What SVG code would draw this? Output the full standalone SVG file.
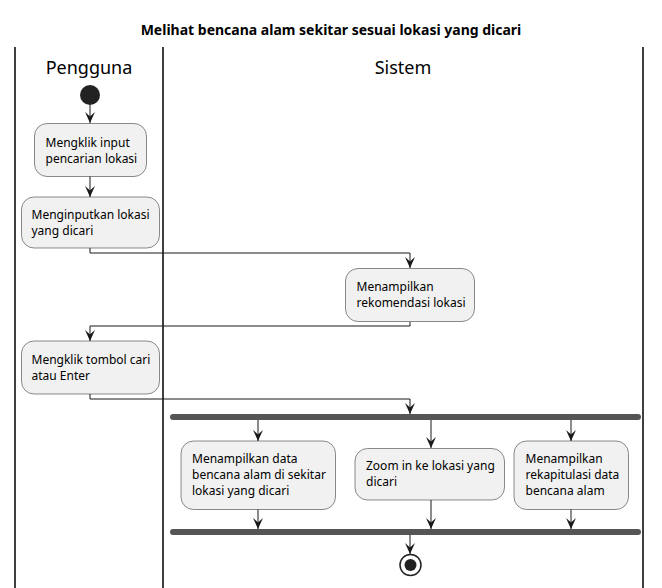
<svg xmlns="http://www.w3.org/2000/svg" width="662" height="588" viewBox="0 0 662 588">
<defs>
<style>
.t{font-family:"Noto Sans","DejaVu Sans",sans-serif;font-size:12px;fill:#000}
.h{font-family:"Noto Sans","DejaVu Sans",sans-serif;font-size:18px;fill:#000;text-anchor:middle}
.ti{font-family:"Noto Sans","DejaVu Sans",sans-serif;font-size:14px;font-weight:bold;fill:#000;text-anchor:middle}
.box{fill:#F1F1F1;stroke:#181818;stroke-width:0.5}
.lane{stroke:#000;stroke-width:1.5}
.c{fill:none;stroke:#181818;stroke-width:1}
.bar{fill:#555555}
</style>
<marker id="ah" viewBox="0 0 10 10" refX="10" refY="5" markerWidth="11" markerHeight="11" markerUnits="userSpaceOnUse" orient="auto">
<polygon points="0,0.5 10,5 0,9.5 4,5" fill="#181818"/>
</marker>
</defs>
<rect width="662" height="588" fill="#fff"/>
<text class="ti" x="331" y="35">Melihat bencana alam sekitar sesuai lokasi yang dicari</text>
<g id="lanes">
<line class="lane" x1="15" y1="47" x2="15" y2="588"/>
<line class="lane" x1="163" y1="47" x2="163" y2="588"/>
<line class="lane" x1="643" y1="47" x2="643" y2="588"/>
<text class="h" x="89" y="74">Pengguna</text>
<text class="h" x="403" y="74">Sistem</text>
</g>
<g id="connectors">
<path class="c" d="M90,105 V123" marker-end="url(#ah)"/>
<path class="c" d="M90,176 V197" marker-end="url(#ah)"/>
<path class="c" d="M90,248 V253 H410 V268" marker-end="url(#ah)"/>
<path class="c" d="M410,322 V326 H90 V341" marker-end="url(#ah)"/>
<path class="c" d="M90,394 V399 H410 V414" marker-end="url(#ah)"/>
<path class="c" d="M258,420 V441" marker-end="url(#ah)"/>
<path class="c" d="M431,420 V448" marker-end="url(#ah)"/>
<path class="c" d="M571,420 V441" marker-end="url(#ah)"/>
<path class="c" d="M258,509 V529" marker-end="url(#ah)"/>
<path class="c" d="M431,500 V529" marker-end="url(#ah)"/>
<path class="c" d="M571,509 V529" marker-end="url(#ah)"/>
<path class="c" d="M410,535 V554" marker-end="url(#ah)"/>
</g>
<g id="start"><circle cx="90" cy="95" r="10" fill="#222"/></g>
<g id="n1">
<rect class="box" x="34.5" y="123.5" width="112" height="53" rx="12.5"/>
<text class="t" x="45.5" y="146.5">Mengklik input</text>
<text class="t" x="45.5" y="162.5">pencarian lokasi</text>
</g>
<g id="n2">
<rect class="box" x="21.5" y="197" width="138" height="51" rx="12.5"/>
<text class="t" x="31.5" y="218.5">Menginputkan lokasi</text>
<text class="t" x="31.5" y="234.5">yang dicari</text>
</g>
<g id="n3">
<rect class="box" x="345.5" y="268.5" width="129" height="53" rx="12.5"/>
<text class="t" x="356.5" y="291">Menampilkan</text>
<text class="t" x="356.5" y="307">rekomendasi lokasi</text>
</g>
<g id="n4">
<rect class="box" x="21.5" y="341" width="138" height="53" rx="12.5"/>
<text class="t" x="31.5" y="363.5">Mengklik tombol cari</text>
<text class="t" x="31.5" y="379.5">atau Enter</text>
</g>
<g id="fork"><rect class="bar" x="170" y="414" width="471" height="6" rx="3"/></g>
<g id="n5">
<rect class="box" x="181" y="441" width="154.5" height="68.5" rx="12.5"/>
<text class="t" x="192" y="463">Menampilkan data</text>
<text class="t" x="192" y="479">bencana alam di sekitar</text>
<text class="t" x="192" y="495">lokasi yang dicari</text>
</g>
<g id="n6">
<rect class="box" x="355" y="448.5" width="149.5" height="51.5" rx="12.5"/>
<text class="t" x="366" y="470">Zoom in ke lokasi yang</text>
<text class="t" x="366" y="486">dicari</text>
</g>
<g id="n7">
<rect class="box" x="514" y="441" width="114.5" height="68.5" rx="12.5"/>
<text class="t" x="525.5" y="463">Menampilkan</text>
<text class="t" x="525.5" y="479">rekapitulasi data</text>
<text class="t" x="525.5" y="495">bencana alam</text>
</g>
<g id="join"><rect class="bar" x="170" y="529" width="471" height="6" rx="3"/></g>
<g id="end">
<circle cx="410.5" cy="565" r="10.5" fill="none" stroke="#222" stroke-width="1.5"/>
<circle cx="410.5" cy="565" r="6" fill="#222"/>
</g>
</svg>
